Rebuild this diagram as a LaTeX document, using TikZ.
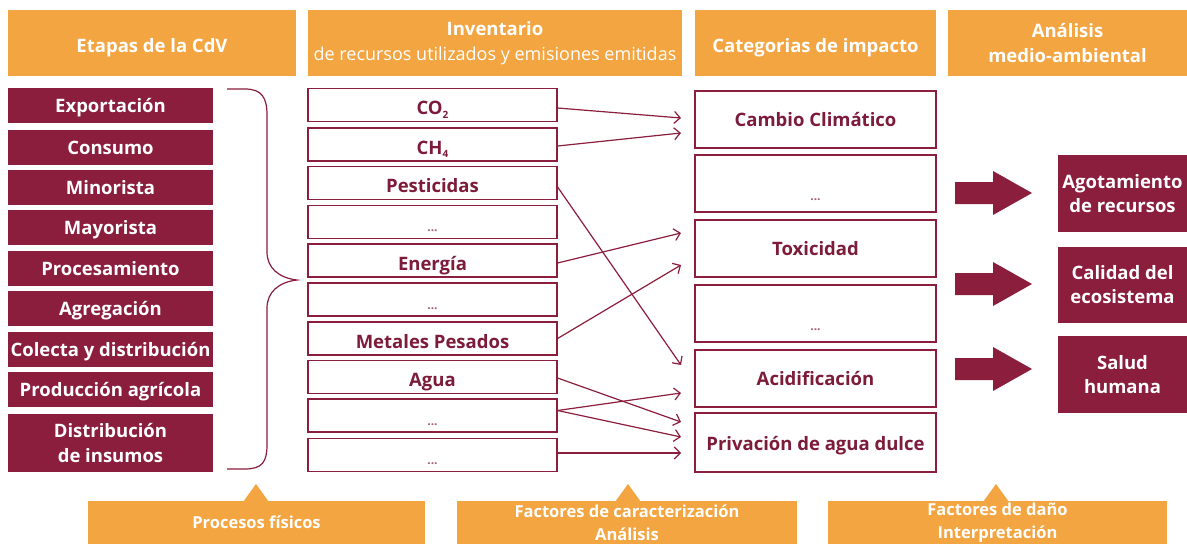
\documentclass[tikz,border=0pt]{standalone}
\usepackage{fontspec}
\setmainfont{Open Sans}
\usetikzlibrary{arrows.meta,calc}
\definecolor{org}{HTML}{F3A541}
\definecolor{mar}{HTML}{8B1D3D}
\definecolor{mtxt}{HTML}{7D1B3A}
\definecolor{dotc}{HTML}{A06075}
\newcommand{\dts}[1][0pt]{\raisebox{#1}{\textcolor{dotc}{\fontsize{12}{12}\selectfont\bfseries ...}}}
\newcommand{\sbs}[1]{\raisebox{-3.5pt}{\fontsize{10}{10}\selectfont #1}}
\begin{document}
\begin{tikzpicture}[x=1pt,y=-1pt,
 hdr/.style={fill=org,text=white,inner sep=0pt,align=center,minimum height=66pt,font=\fontsize{18.5}{25}\selectfont\bfseries},
 hone/.style={text height=20pt,text depth=2pt},
 stage/.style={fill=mar,text=white,inner sep=0pt,minimum width=205pt,minimum height=35pt,align=center,font=\fontsize{18.5}{25}\selectfont\bfseries},
 sone/.style={text height=15.5pt,text depth=2.3pt},
 inv/.style={draw=mar,line width=1.2pt,fill=white,text=mtxt,minimum width=249pt,minimum height=33pt,inner sep=0pt,text height=20pt,text depth=0.6pt,font=\fontsize{18.5}{20}\selectfont\bfseries},
 cat/.style={draw=mar,line width=1.2pt,fill=white,text=mtxt,minimum width=241pt,minimum height=57pt,inner sep=0pt,text height=15.5pt,text depth=2.3pt,font=\fontsize{18.5}{20}\selectfont\bfseries},
 res/.style={fill=mar,text=white,inner sep=0pt,minimum width=129pt,align=center,font=\fontsize{18.5}{24}\selectfont\bfseries},
 foot/.style={fill=org,text=white,inner sep=0pt,minimum height=43pt,align=center,font=\fontsize{16.5}{23}\selectfont\bfseries},
 conn/.style={draw=mar,line width=1.2pt,-{Straight Barb[length=6pt,width=12pt,line width=1.2pt]}},
 fat/.style={fill=mar}
]
\useasboundingbox[fill=white] (0,0) rectangle (1187,544);

% headers
\node[hdr,hone,minimum width=288pt] (h1) at (152,43) {Etapas de la CdV};
\node[hdr,minimum width=374pt] (h2) at (495,43) {Inventario\\{\mdseries\fontsize{18}{25}\selectfont de recursos utilizados y emisiones emitidas}};
\node[hdr,hone,minimum width=241pt] (h3) at (815.5,43) {Categorias de impacto};
\node[hdr,minimum width=239pt] (h4) at (1067.5,43) {Análisis\\medio-ambiental};

% life-cycle stages
\node[stage,sone] (s1) at (110.5,105.5) {Exportación};
\node[stage,sone] (s2) at (110.5,147.5) {Consumo};
\node[stage,sone] (s3) at (110.5,187.5) {Minorista};
\node[stage,sone] (s4) at (110.5,227.5) {Mayorista};
\node[stage,sone] (s5) at (110.5,268.5) {Procesamiento};
\node[stage,sone] (s6) at (110.5,308.5) {Agregación};
\node[stage,sone] (s7) at (110.5,349.5) {Colecta y distribución};
\node[stage,sone] (s8) at (110.5,389.5) {Producción agrícola};
\node[stage,minimum height=58pt] (s9) at (110.5,443) {Distribución\\de insumos};

% brace
\draw[mar,line width=1.2pt] (227,89) -- (245,89) .. controls (262,89) and (267,98) .. (267,115) -- (267,252) .. controls (267,268) and (279,278) .. (297,280) .. controls (279,282) and (267,292) .. (267,308) -- (267,445) .. controls (267,462) and (262,469) .. (245,469) -- (227,469);

% inventory
\node[inv] (co2) at (432.5,105) {CO\sbs{2}};
\node[inv] (ch4) at (432.5,144.5) {CH\sbs{4}};
\node[inv] (pest) at (432.5,183) {Pesticidas};
\node[inv] (d1) at (432.5,222) {\dts};
\node[inv] (ene) at (432.5,260.5) {Energía};
\node[inv] (d2) at (432.5,299.5) {\dts};
\node[inv] (met) at (432.5,338.5) {Metales Pesados};
\node[inv] (agua) at (432.5,377) {Agua};
\node[inv] (d3) at (432.5,415.5) {\dts};
\node[inv] (d4) at (432.5,455) {\dts};

% impact categories
\node[cat] (cc) at (815.5,119.5) {Cambio Climático};
\node[cat] (c1) at (815.5,183.5) {\dts[-10pt]};
\node[cat] (tox) at (815.5,248.5) {Toxicidad};
\node[cat] (c2) at (815.5,313.5) {\dts[-10pt]};
\node[cat] (aci) at (815.5,378.5) {Acidificación};
\node[cat,minimum height=59pt,text height=18pt] (pri) at (815.5,442.5) {Privación de agua dulce};

% arrow ends
\coordinate (t1) at (681,118);
\coordinate (t2) at (681,133);
\coordinate (t3) at (681,365);
\coordinate (t4) at (681,233);
\coordinate (t5) at (681,265);
\coordinate (t6) at (681,422);
\coordinate (t7) at (681,393);
\coordinate (t8) at (681,437);
\coordinate (t9) at (681,453);

\draw[conn] ([yshift=-3pt]co2.east) -- (t1);
\draw[conn] ([yshift=-1.5pt]ch4.east) -- (t2);
\draw[conn] ([yshift=-4pt]pest.east) -- (t3);
\draw[conn] ([yshift=-2.5pt]ene.east) -- (t4);
\draw[conn] (met.east) -- (t5);
\draw[conn] ([yshift=-1pt]agua.east) -- (t6);
\draw[conn] ([yshift=5pt]d3.east) -- (t7);
\draw[conn] ([yshift=5pt]d3.east) -- (t8);
\draw[conn] ([yshift=2pt]d4.east) -- (t9);

% results
\node[res,minimum height=77pt] (ago) at (1122.5,193.5) {Agotamiento\\de recursos};
\node[res,minimum height=76pt] (cal) at (1122.5,285) {Calidad del\\ecosistema};
\node[res,minimum height=77pt] (sal) at (1122.5,374.5) {Salud\\humana};

\foreach \yy in {193,284,369}{
  \fill[fat] (955,\yy-11) -- (993,\yy-11) -- (993,\yy-22) -- (1032,\yy) -- (993,\yy+22) -- (993,\yy+11) -- (955,\yy+11) -- cycle;
}

% footer boxes
\node[foot,minimum width=337pt] (f1) at (256.5,522.5) {Procesos físicos};
\node[foot,minimum width=340pt] (f2) at (627,522.5) {Factores de caracterización\\Análisis};
\node[foot,minimum width=339pt] (f3) at (997.5,522.5) {Factores de daño\\Interpretación};
\fill[org] (243,502) -- (256,484) -- (269,502) -- cycle;
\fill[org] (615,502) -- (628,484) -- (641,502) -- cycle;
\fill[org] (983,502) -- (996,484) -- (1009,502) -- cycle;
\end{tikzpicture}
\end{document}
